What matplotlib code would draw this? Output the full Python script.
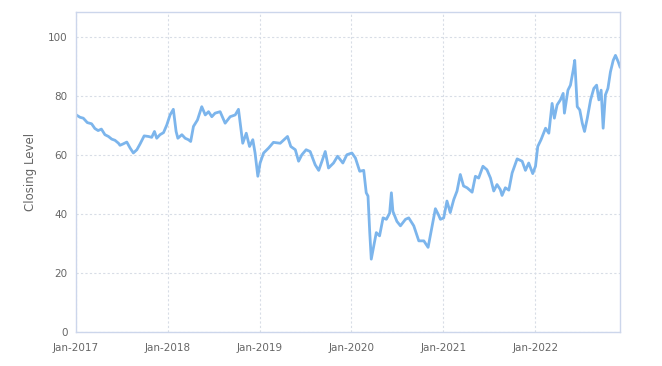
import numpy as np
import pandas as pd
import matplotlib
matplotlib.use("Agg")
import matplotlib.pyplot as plt
import matplotlib.dates as mdates

# closing levels
dates = [
    "2017-01-02", "2017-01-17", "2017-01-30", "2017-02-15", "2017-03-04", "2017-03-17",
    "2017-03-30", "2017-04-12", "2017-04-26", "2017-05-10", "2017-05-23", "2017-06-05",
    "2017-06-19", "2017-06-25", "2017-07-08", "2017-07-22", "2017-08-04", "2017-08-17",
    "2017-08-31", "2017-09-13", "2017-09-29", "2017-10-16", "2017-10-29", "2017-11-09",
    "2017-11-18", "2017-12-01", "2017-12-15", "2017-12-28",
    "2018-01-10", "2018-01-23", "2018-02-03", "2018-02-10", "2018-02-26", "2018-03-11",
    "2018-03-24", "2018-04-02", "2018-04-13", "2018-04-29", "2018-05-16", "2018-05-30",
    "2018-06-12", "2018-06-25", "2018-07-08", "2018-07-28", "2018-08-17", "2018-09-06",
    "2018-09-26", "2018-10-09", "2018-10-16", "2018-10-26", "2018-11-09", "2018-11-22",
    "2018-12-05", "2018-12-14", "2018-12-25",
    "2019-01-03", "2019-01-17", "2019-02-06", "2019-02-25", "2019-03-24", "2019-04-22",
    "2019-05-05", "2019-05-23", "2019-06-05", "2019-06-18", "2019-07-05", "2019-07-21",
    "2019-08-10", "2019-08-24", "2019-09-06", "2019-09-19", "2019-10-02", "2019-10-22",
    "2019-11-07", "2019-11-28", "2019-12-14",
    "2020-01-03", "2020-01-17", "2020-02-03", "2020-02-19", "2020-02-29", "2020-03-07",
    "2020-03-14", "2020-03-20", "2020-03-30", "2020-04-09", "2020-04-22", "2020-05-06",
    "2020-05-19", "2020-06-01", "2020-06-08", "2020-06-14", "2020-06-30", "2020-07-14",
    "2020-08-03", "2020-08-16", "2020-09-05", "2020-09-25", "2020-10-15", "2020-11-01",
    "2020-11-17", "2020-11-30", "2020-12-13", "2020-12-20",
    "2021-01-02", "2021-01-15", "2021-01-28", "2021-02-11", "2021-02-24", "2021-03-09",
    "2021-03-22", "2021-04-05", "2021-04-25", "2021-05-08", "2021-05-21", "2021-06-07",
    "2021-06-23", "2021-07-07", "2021-07-20", "2021-08-02", "2021-08-15", "2021-08-22",
    "2021-09-04", "2021-09-18", "2021-10-01", "2021-10-21", "2021-11-10", "2021-11-23",
    "2021-12-06", "2021-12-22",
    "2022-01-02", "2022-01-11", "2022-01-24", "2022-02-11", "2022-02-24", "2022-03-09",
    "2022-03-18", "2022-03-29", "2022-04-11", "2022-04-22", "2022-04-27", "2022-05-11",
    "2022-05-21", "2022-06-01", "2022-06-07", "2022-06-17", "2022-06-27", "2022-07-07",
    "2022-07-16", "2022-07-27", "2022-08-09", "2022-08-22", "2022-09-02", "2022-09-11",
    "2022-09-20", "2022-09-28", "2022-10-07", "2022-10-17", "2022-10-27", "2022-11-07",
    "2022-11-16", "2022-11-27", "2022-12-04",
]
closing = [
    73.6, 72.8, 72.5, 71.0, 70.6, 69.0,
    68.3, 68.8, 66.9, 66.3, 65.4, 65.0,
    64.0, 63.3, 63.8, 64.4, 62.4, 60.7,
    61.8, 63.8, 66.5, 66.3, 66.0, 68.0,
    65.7, 66.9, 67.6, 70.2,
    73.6, 75.5, 68.0, 65.7, 66.9, 65.7,
    65.2, 64.6, 69.7, 71.9, 76.4, 73.6,
    74.7, 73.0, 74.2, 74.7, 70.8, 73.0,
    73.6, 75.5, 70.8, 64.0, 67.4, 62.9,
    65.2, 60.7, 52.8,
    57.3, 60.7, 62.4, 64.3, 64.0, 66.3,
    62.9, 61.8, 57.9, 60.1, 61.8, 61.2,
    56.7, 54.8, 57.9, 61.2, 55.6, 57.3,
    59.6, 57.3, 60.1,
    60.7, 59.0, 54.5, 54.8, 47.2, 46.1,
    33.7, 24.7, 29.2, 33.7, 32.6, 38.7,
    38.2, 40.3, 47.2, 40.9, 37.5, 36.0,
    38.2, 38.7, 36.0, 30.9, 30.9, 28.7,
    36.0, 41.8, 39.6, 38.2,
    38.7, 44.4, 40.5, 44.9, 47.8, 53.4,
    49.5, 48.9, 47.4, 52.8, 52.2, 56.2,
    55.0, 52.2, 47.8, 50.0, 48.3, 46.3,
    48.9, 48.1, 53.9, 58.7, 57.9, 54.8,
    57.3, 53.7,
    56.2, 62.9, 65.2, 69.1, 67.4, 77.5,
    72.5, 77.0, 78.7, 80.9, 74.2, 82.0,
    83.7, 88.8, 92.1, 76.4, 75.3, 70.8,
    68.0, 72.5, 78.7, 82.6, 83.7, 78.7,
    82.0, 69.1, 80.4, 82.6, 88.2, 92.1,
    93.8, 91.6, 89.9,
]
y_ticks = [0, 20, 40, 60, 80, 100]
x_start = "2017-01-01"

x = pd.to_datetime(dates)

fig = plt.figure(figsize=(6.62, 3.66), dpi=100)
ax = fig.add_axes([76 / 662, 1 - 332 / 366, (620 - 76) / 662, (332 - 12) / 366])

ax.plot(x, closing, color="#7cb5ec", linewidth=2.0, solid_joinstyle="round")

ax.set_xlim(pd.Timestamp(x_start), x[-1])
ax.set_ylim(0, 108.5)
ax.set_yticks(y_ticks)
ax.xaxis.set_major_locator(mdates.YearLocator(month=1, day=1))
ax.xaxis.set_major_formatter(mdates.DateFormatter("%b-%Y"))

ax.grid(True, color="#d8dde6", linestyle=(0, (2, 2)), linewidth=0.8)
ax.set_axisbelow(True)
for s in ax.spines.values():
    s.set_color("#ccd6eb")
    s.set_linewidth(1.0)

ax.tick_params(axis="both", length=0, colors="#666666", labelsize=7.5)
ax.tick_params(axis="x", pad=8)
ax.tick_params(axis="y", pad=6)
ax.set_ylabel("Closing Level", color="#666666", fontsize=8.5, labelpad=8)

fig.savefig("out.png", dpi=100)
